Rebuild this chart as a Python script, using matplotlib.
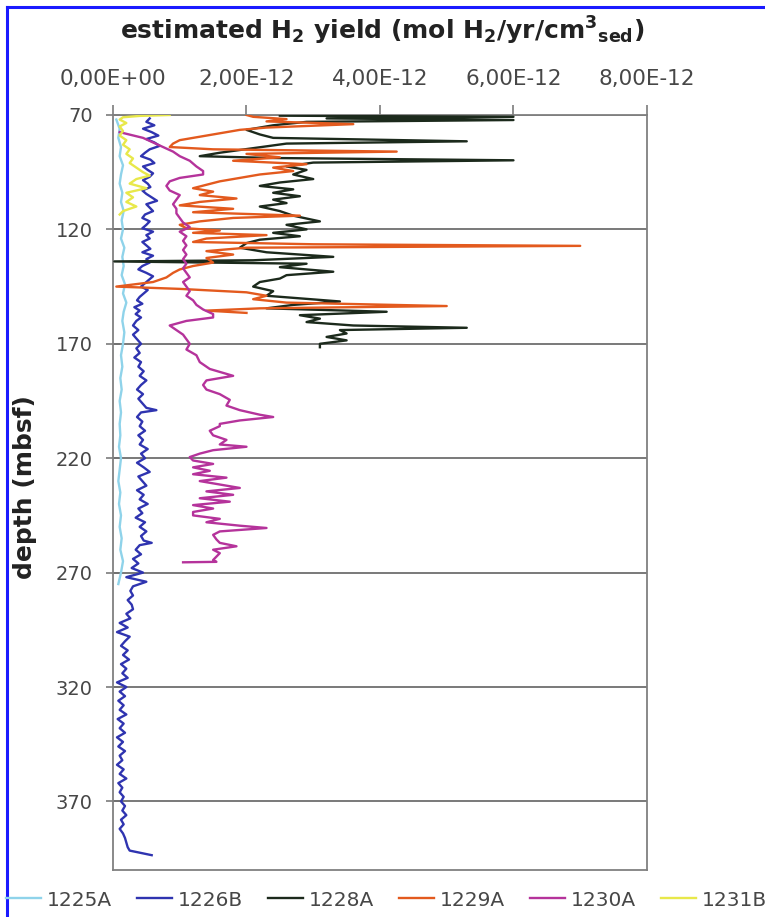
import matplotlib.pyplot as plt
from matplotlib.lines import Line2D
import numpy as np

plt.rcParams['font.family'] = ['DejaVu Sans']
plt.rcParams['mathtext.default'] = 'regular'

# values in units of 1e-12 mol H2/yr/cm3, depths in mbsf
depth_1225A = [72, 76, 80, 84, 88, 92, 96, 100, 104, 108, 112, 116, 120, 124, 128, 132, 136,
               140, 144, 148, 152, 156, 160, 165, 170, 175, 180, 185, 190, 195, 200, 205,
               210, 215, 220, 225, 230, 235, 240, 245, 250, 255, 260, 265, 270, 275]
h2_1225A = [0.05, 0.1, 0.08, 0.12, 0.1, 0.15, 0.12, 0.1, 0.14, 0.12, 0.16, 0.13, 0.15, 0.12,
            0.17, 0.14, 0.16, 0.13, 0.18, 0.15, 0.2, 0.16, 0.14, 0.17, 0.15, 0.12, 0.14, 0.11,
            0.13, 0.1, 0.12, 0.1, 0.11, 0.09, 0.12, 0.1, 0.08, 0.11, 0.09, 0.12, 0.1, 0.13,
            0.11, 0.15, 0.12, 0.08]

depth_1226B = [71.5, 73, 74.5, 76, 77.5, 79, 80.5, 82, 83.5, 85,
               86.5, 88, 89.5, 91, 92.5, 94, 95.5, 97, 98.5, 100,
               101.5, 103, 104.5, 106, 107.5, 109, 110.5, 112, 113.5, 115,
               116.5, 118, 119.5, 121, 122.5, 124, 125.5, 127, 128.5, 130,
               131.5, 133, 134.5, 136, 137.5, 139, 140.5, 142, 143.5, 145,
               146.5, 148, 149.5, 151, 152.5, 154, 155.5, 157, 158.5, 160,
               162, 164, 166, 168, 170, 172, 174, 176, 178, 180,
               182, 184, 186, 188, 190, 192, 194, 196, 198, 199,
               200, 202, 204, 206, 208, 210, 212, 214, 216, 218,
               220, 222, 224, 226, 228, 230, 232, 234, 236, 238,
               240, 242, 244, 246, 248, 250, 252, 254, 256, 257,
               258, 260, 262, 264, 266, 268, 270, 272, 274, 276,
               278, 280, 282, 284, 286, 288, 290, 292, 294, 296,
               298, 300, 302, 304, 306, 308, 310, 312, 314, 316,
               318, 320, 322, 324, 326, 328, 330, 332, 334, 336,
               338, 340, 342, 344, 346, 348, 350, 352, 354, 356,
               358, 360, 362, 364, 366, 368, 370, 372, 374, 376,
               378, 380, 382, 384, 386, 388, 390, 391.5, 393.5]
h2_1226B = [0.55, 0.5, 0.62, 0.45, 0.58, 0.68, 0.5, 0.62, 0.7, 0.55,
            0.48, 0.42, 0.56, 0.62, 0.45, 0.52, 0.6, 0.55, 0.45, 0.52,
            0.56, 0.44, 0.5, 0.58, 0.66, 0.5, 0.55, 0.6, 0.48, 0.44,
            0.55, 0.5, 0.44, 0.6, 0.5, 0.55, 0.44, 0.5, 0.56, 0.44,
            0.6, 0.5, 0.55, 0.44, 0.38, 0.5, 0.6, 0.54, 0.48, 0.42,
            0.52, 0.46, 0.4, 0.36, 0.44, 0.32, 0.4, 0.34, 0.42, 0.35,
            0.3, 0.38, 0.3, 0.36, 0.42, 0.35, 0.4, 0.32, 0.42, 0.38,
            0.46, 0.4, 0.5, 0.42, 0.36, 0.45, 0.38, 0.44, 0.5, 0.65,
            0.42, 0.36, 0.44, 0.4, 0.48, 0.38, 0.45, 0.4, 0.52, 0.42,
            0.48, 0.36, 0.46, 0.55, 0.38, 0.44, 0.5, 0.36, 0.46, 0.4,
            0.52, 0.38, 0.44, 0.34, 0.48, 0.4, 0.5, 0.42, 0.46, 0.58,
            0.4, 0.34, 0.42, 0.3, 0.38, 0.28, 0.45, 0.2, 0.5, 0.3,
            0.26, 0.3, 0.22, 0.28, 0.3, 0.2, 0.26, 0.1, 0.22, 0.06,
            0.25, 0.18, 0.12, 0.22, 0.15, 0.24, 0.12, 0.2, 0.14, 0.22,
            0.06, 0.2, 0.1, 0.18, 0.08, 0.16, 0.1, 0.2, 0.07, 0.16,
            0.1, 0.18, 0.06, 0.15, 0.08, 0.18, 0.1, 0.14, 0.06, 0.16,
            0.1, 0.2, 0.08, 0.14, 0.1, 0.16, 0.12, 0.18, 0.14, 0.2,
            0.12, 0.16, 0.1, 0.15, 0.18, 0.2, 0.22, 0.25, 0.58]

depth_1228A = [70.3, 70.8, 71.5, 72.2, 73.0, 74.5, 76.5, 78.5, 80.0, 81.5,
               82.5, 84.5, 86.5, 88.0, 88.8, 89.8, 90.8, 92.5, 94.0, 96.0,
               98.0, 99.5, 101.0, 102.5, 104.0, 105.5, 107.0, 108.5, 110.0, 112.0,
               114.0, 116.5, 118.0, 120.0, 121.5, 123.0, 124.5, 126.0, 128.0, 130.0,
               132.0, 133.5, 134.0, 135.0, 136.5, 138.5, 140.0, 141.5, 143.0, 145.0, 147.0,
               149.0, 151.5, 153.0, 154.5, 156.0, 157.5, 159.0, 160.5, 162.0, 163.0,
               164.0, 165.5, 167.0, 168.5, 170.0, 171.5]
h2_1228A = [2.5, 6.0, 3.2, 6.0, 2.9, 2.4, 2.0, 2.2, 2.4, 5.3,
            2.6, 2.1, 1.6, 1.3, 2.4, 6.0, 3.0, 2.6, 2.9, 2.7,
            3.0, 2.5, 2.2, 2.7, 2.4, 2.8, 2.4, 2.6, 2.2, 2.5,
            2.7, 3.1, 2.6, 2.9, 2.4, 2.8, 2.2, 2.0, 1.9, 2.3,
            3.3, 2.1, 0.02, 2.9, 2.5, 3.3, 2.6, 2.5, 2.2, 2.1, 2.4,
            2.3, 3.4, 2.7, 2.3, 4.1, 2.8, 3.1, 2.9, 3.6, 5.3,
            3.4, 3.5, 3.2, 3.5, 3.1, 3.1]

depth_1229A = [70.0, 70.8, 71.8, 72.8, 74.0, 75.5, 76.5, 78.0, 79.5, 81.0,
               82.5, 84.0, 85.0, 86.0, 87.0, 88.5, 90.0, 91.5, 93.0, 94.5,
               96.0, 97.5, 99.0, 100.5, 102.0, 103.5, 105.0, 106.5, 108.0, 109.5,
               111.0, 112.5, 114.0, 115.0, 116.5, 118.0, 119.5, 120.5, 121.5, 122.5,
               124.0, 125.5, 126.5, 127.2, 128.0, 129.5, 131.0, 132.5, 134.5, 136.0,
               137.5, 139.0, 141.0, 143.0, 145.0, 146.0, 147.5, 149.0, 150.5, 152.0,
               153.5, 154.5, 155.5, 156.5]
h2_1229A = [2.0, 2.1, 2.6, 2.3, 3.6, 2.3, 1.9, 1.6, 1.3, 1.0,
            0.9, 0.85, 1.5, 4.25, 2.0, 2.5, 1.8, 2.9, 2.4, 2.7,
            2.2, 1.9, 1.6, 1.4, 1.2, 1.5, 1.3, 1.85, 1.3, 1.0,
            1.8, 1.2, 2.8, 1.8, 1.3, 1.0, 1.1, 1.6, 1.2, 2.3,
            1.4, 1.2, 3.0, 7.0, 2.0, 1.4, 1.8, 1.4, 1.5, 1.2,
            1.0, 0.9, 0.8, 0.6, 0.05, 1.0, 2.0, 2.3, 2.1, 2.6,
            5.0, 2.2, 1.4, 2.0]

depth_1230A = [77.5, 80, 82, 84, 86, 88, 90, 92.5, 94.5, 96,
               97.5, 99, 101, 103, 105, 107, 109, 111, 113, 115,
               117, 119, 121, 123, 125, 127, 129, 131, 133, 135,
               137, 139, 141, 143, 145, 147, 149, 151, 153, 155,
               157, 158.5, 160, 162, 164, 166, 168, 170, 172.5, 175,
               178, 181, 184, 186, 188, 190, 192, 194.5, 197, 199,
               201, 202, 203.5, 205, 206, 208, 210, 212, 214, 215,
               216.5, 218, 219.5, 221, 222.5, 224, 225.5, 227, 228.5, 230,
               231.5, 233, 234.5, 236, 237.5, 239, 240.5, 242, 243.5, 245,
               246.5, 248, 249.5, 250.5, 252, 253.5, 255.5, 257, 258.5, 260,
               261.5, 263, 264.5, 265.3, 265.5]
h2_1230A = [0.1, 0.45, 0.6, 0.75, 0.9, 1.0, 1.15, 1.25, 1.35, 1.35,
            1.0, 0.85, 0.8, 0.85, 1.0, 0.95, 0.9, 0.95, 0.95, 1.0,
            1.05, 1.15, 1.0, 1.1, 1.05, 1.1, 1.05, 1.1, 1.05, 1.1,
            1.05, 1.1, 1.15, 1.05, 1.1, 1.15, 1.1, 1.2, 1.25, 1.35,
            1.5, 1.5, 1.1, 0.85, 0.95, 1.05, 1.1, 1.15, 1.1, 1.25,
            1.3, 1.45, 1.8, 1.4, 1.35, 1.4, 1.6, 1.75, 1.7, 1.9,
            2.2, 2.4, 1.9, 1.6, 1.6, 1.45, 1.5, 1.7, 1.6, 2.0,
            1.5, 1.3, 1.15, 1.2, 1.5, 1.2, 1.45, 1.2, 1.7, 1.3,
            1.6, 1.9, 1.4, 1.8, 1.3, 1.75, 1.2, 1.5, 1.2, 1.2,
            1.6, 1.4, 1.9, 2.3, 1.6, 1.5, 1.55, 1.6, 1.85, 1.5,
            1.6, 1.55, 1.5, 1.55, 1.05]

depth_1231B = [70.0, 70.4, 71.0, 72.0, 73.5, 75.0, 77.0, 79.0, 81.0, 83.0,
               85.0, 87.0, 89.0, 91.0, 93.0, 95.0, 96.5, 98.0, 100.0, 102.0,
               104.0, 106.0, 108.0, 110.0, 112.0, 113.5]
h2_1231B = [0.85, 0.4, 0.15, 0.1, 0.2, 0.1, 0.15, 0.1, 0.2, 0.15,
            0.25, 0.2, 0.3, 0.25, 0.35, 0.45, 0.55, 0.35, 0.25, 0.5,
            0.2, 0.3, 0.2, 0.35, 0.15, 0.1]

series = [
    ('1225A', depth_1225A, h2_1225A, '#8fd3ea'),
    ('1226B', depth_1226B, h2_1226B, '#2f34b0'),
    ('1228A', depth_1228A, h2_1228A, '#1c2a1c'),
    ('1229A', depth_1229A, h2_1229A, '#e35a1e'),
    ('1230A', depth_1230A, h2_1230A, '#b5339b'),
    ('1231B', depth_1231B, h2_1231B, '#e8e84a'),
]

x_ticks = [0, 2e-12, 4e-12, 6e-12, 8e-12]
x_tick_labels = ['0,00E+00', '2,00E-12', '4,00E-12', '6,00E-12', '8,00E-12']
y_ticks = [70, 120, 170, 220, 270, 320, 370]

fig = plt.figure(figsize=(7.65, 9.17), dpi=100)
ax = fig.add_axes([0.1477, 0.0512, 0.698, 0.8234])

for name, d, v, c in series:
    ax.plot(np.array(v) * 1e-12, d, color=c, lw=1.7, label=name, zorder=3)

ax.set_xlim(0, 8e-12)
ax.set_ylim(400, 70)
ax.xaxis.tick_top()
ax.set_xticks(x_ticks)
ax.set_xticklabels(x_tick_labels)
ax.set_yticks(y_ticks)
ax.grid(axis='y', color='#6e6e6e', lw=1.3, zorder=1)
ax.tick_params(axis='x', direction='out', length=7, width=1.1, color='#707070',
               labelsize=15.5, labelcolor='#474747', pad=12)
ax.tick_params(axis='y', direction='inout', length=10, width=1.1, color='#707070',
               labelsize=14, labelcolor='#474747', pad=9.5)
for sp in ax.spines.values():
    sp.set_color('#808080')
    sp.set_linewidth(1.3)

fig.text(0.5, 0.966, 'estimated H$_2$ yield (mol H$_2$/yr/cm$^3$$_{sed}$)',
         ha='center', va='center', fontsize=18, fontweight='bold', color='#222222')
fig.text(0.033, 0.469, 'depth (mbsf)', rotation=90, ha='center', va='center',
         fontsize=18, fontweight='bold', color='#222222')

fig.legend(loc='center', bbox_to_anchor=(0.505, 0.0185), ncol=6, frameon=False,
           fontsize=14.5, handlelength=1.75, handletextpad=0.25, columnspacing=1.27,
           labelcolor='#474747')

# blue border visible at left and top edge
fig.add_artist(Line2D([0.009, 0.009], [0, 0.992], color='#1a1aff', lw=2.2))
fig.add_artist(Line2D([0.009, 1.0], [0.992, 0.992], color='#1a1aff', lw=2.2))

fig.savefig('out.png', dpi=100, facecolor='white')
